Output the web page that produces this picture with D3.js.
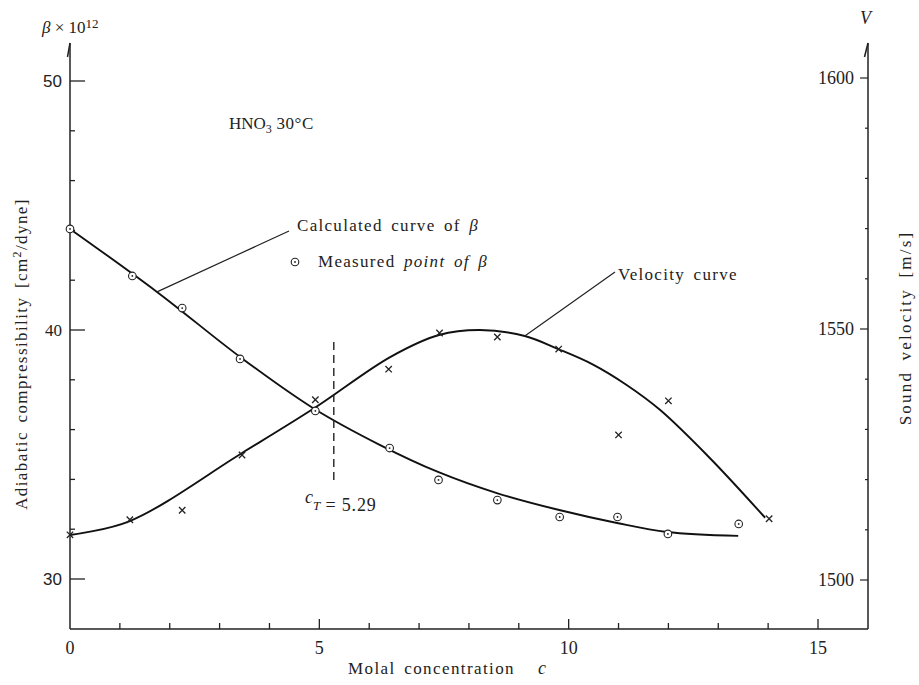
<!DOCTYPE html>
<html>
<head>
<meta charset="utf-8">
<script src="https://cdn.jsdelivr.net/npm/d3@7"></script>
<style>
  body { margin: 0; background: #fff; }
  svg { display: block; }
</style>
</head>
<body>
<svg id="chart" width="919" height="685"></svg>
<script>
// donnees
let betaCurveC = [0, 1.745, 3.41, 4.87, 6.22, 7.38, 8.56, 9.81, 10.97, 11.97, 13.40];
let betaCurveV = [44.06, 41.53, 38.92, 36.87, 35.38, 34.30, 33.45, 32.77, 32.25, 31.89, 31.73];

let betaPtsC = [0, 1.25, 2.25, 3.41, 4.92, 6.41, 7.39, 8.57, 9.82, 10.98, 11.99, 13.41];
let betaPtsV = [44.06, 42.17, 40.88, 38.84, 36.75, 35.26, 33.98, 33.17, 32.49, 32.49, 31.81, 32.21];

let velCurveC = [0, 1.2, 3.45, 4.91, 6.42, 7.40, 8.22, 9.12, 9.79, 10.47, 11.17, 11.83, 12.83, 13.94];
let velCurveV = [1508.96, 1511.75, 1525.3, 1534.3, 1544.4, 1548.8, 1549.8, 1548.6, 1546.0, 1543.0, 1538.8, 1533.9, 1524.3, 1512.4];

let velPtsC = [0, 1.2, 2.25, 3.45, 4.92, 6.39, 7.41, 8.57, 9.8, 11.0, 12.0, 14.02];
let velPtsV = [1509.0, 1512.0, 1513.9, 1524.9, 1535.9, 1542.0, 1549.2, 1548.4, 1546.0, 1528.9, 1535.7, 1512.2];

let xTicks = [0, 5, 10, 15];
let leftTicks = [30, 40, 50];
let rightTicks = [1500, 1550, 1600];
let cT = 5.29;

let serif = "'Liberation Serif', 'Times New Roman', 'DejaVu Serif', serif";
let sans = "'Liberation Sans', Arial, sans-serif";

let svg = d3.select("#chart")
  .attr("font-family", serif);

svg.append("rect").attr("width", 919).attr("height", 685).attr("fill", "#fff");

// echelles
let x = d3.scaleLinear().domain([0, 15]).range([70, 818]);
let yL = d3.scaleLinear().domain([30, 50]).range([579, 81]);
let yR = d3.scaleLinear().domain([1500, 1600]).range([580, 78]);

let xEnd = 868, yBottom = 629, yTop = 43;

// axes
let ax = svg.append("g").attr("stroke", "#222").attr("fill", "none");
ax.append("line").attr("x1", x(0)).attr("x2", xEnd).attr("y1", yBottom).attr("y2", yBottom).attr("stroke-width", 1.5);
ax.append("line").attr("x1", x(0)).attr("x2", x(0)).attr("y1", yBottom).attr("y2", yTop).attr("stroke-width", 1.5);
ax.append("line").attr("x1", xEnd).attr("x2", xEnd).attr("y1", yBottom).attr("y2", yTop).attr("stroke-width", 1.5);
// petites fleches
ax.append("path").attr("d", "M" + (x(0) - 2.5) + "," + (yTop + 14) + "L" + x(0) + "," + yTop).attr("stroke-width", 1.5);
ax.append("path").attr("d", "M" + (xEnd - 3.5) + "," + (yTop + 14) + "L" + xEnd + "," + yTop).attr("stroke-width", 1.5);

// graduations x
ax.selectAll(".xminor").data(d3.range(1, 16)).enter().append("line")
  .attr("x1", d => x(d)).attr("x2", d => x(d))
  .attr("y1", yBottom).attr("y2", d => yBottom - (d % 5 === 0 ? 10 : 6))
  .attr("stroke-width", 1.3);

// graduations gauche
ax.selectAll(".lminor").data(d3.range(30, 51, 2)).enter().append("line")
  .attr("x1", x(0)).attr("x2", d => x(0) + (d % 10 === 0 ? 15 : 5))
  .attr("y1", d => yL(d)).attr("y2", d => yL(d))
  .attr("stroke-width", 1.3);

// graduations droite
ax.selectAll(".rminor").data(d3.range(1500, 1601, 10)).enter().append("line")
  .attr("x1", xEnd).attr("x2", d => xEnd - (d % 50 === 0 ? 8 : 3))
  .attr("y1", d => yR(d)).attr("y2", d => yR(d))
  .attr("stroke-width", 1.2);

// etiquettes
let txt = svg.append("g").attr("fill", "#222").attr("font-family", serif);

txt.selectAll(".xlab").data(xTicks).enter().append("text")
  .attr("x", d => x(d)).attr("y", 654)
  .attr("text-anchor", "middle").attr("font-size", 18)
  .text(d => d);

txt.selectAll(".llab").data(leftTicks).enter().append("text")
  .attr("x", 62).attr("y", d => yL(d) + 6)
  .attr("text-anchor", "end").attr("font-size", 17)
  .attr("font-family", d => d === 40 ? serif : sans)
  .text(d => d);

txt.selectAll(".rlab").data(rightTicks).enter().append("text")
  .attr("x", 854).attr("y", d => yR(d) + 6)
  .attr("text-anchor", "end").attr("font-size", 18)
  .text(d => d);

// titres des axes
txt.append("text").attr("x", 348).attr("y", 674).attr("font-size", 17)
  .attr("letter-spacing", 1.4).attr("word-spacing", 3).text("Molal concentration");
txt.append("text").attr("x", 538).attr("y", 674).attr("font-size", 18)
  .attr("font-style", "italic").text("c");

let tl = txt.append("text")
  .attr("transform", "translate(27,354) rotate(-90)")
  .attr("text-anchor", "middle").attr("font-size", 17).attr("letter-spacing", 1.4).attr("word-spacing", 3);
tl.append("tspan").text("Adiabatic compressibility [cm");
tl.append("tspan").attr("dy", -6).attr("font-size", 12).text("2");
tl.append("tspan").attr("dy", 6).text("/dyne]");

txt.append("text")
  .attr("transform", "translate(911,328) rotate(-90)")
  .attr("text-anchor", "middle").attr("font-size", 17).attr("letter-spacing", 2.2).attr("word-spacing", 4)
  .text("Sound velocity [m/s]");

let t1 = txt.append("text").attr("x", 42).attr("y", 33).attr("font-size", 17);
t1.append("tspan").attr("font-style", "italic").text("β");
t1.append("tspan").text(" × 10");
t1.append("tspan").attr("dy", -5).attr("font-size", 13).text("12");

txt.append("text").attr("x", 860).attr("y", 24).attr("font-size", 18)
  .attr("font-style", "italic").text("V");

// courbes
let lineB = d3.line().x(d => x(d[0])).y(d => yL(d[1])).curve(d3.curveCatmullRom.alpha(0.5));
let lineV = d3.line().x(d => x(d[0])).y(d => yR(d[1])).curve(d3.curveCatmullRom.alpha(0.5));

svg.append("path").datum(d3.zip(betaCurveC, betaCurveV))
  .attr("d", lineB).attr("fill", "none").attr("stroke", "#111").attr("stroke-width", 1.9);
svg.append("path").datum(d3.zip(velCurveC, velCurveV))
  .attr("d", lineV).attr("fill", "none").attr("stroke", "#111").attr("stroke-width", 1.9);

// points mesures beta
let gb = svg.append("g");
d3.zip(betaPtsC, betaPtsV).forEach(function(p) {
  gb.append("circle").attr("cx", x(p[0])).attr("cy", yL(p[1])).attr("r", 3.8)
    .attr("fill", "#fff").attr("stroke", "#222").attr("stroke-width", 1.1);
  gb.append("circle").attr("cx", x(p[0])).attr("cy", yL(p[1])).attr("r", 0.9).attr("fill", "#222");
});

// points mesures vitesse
let gv = svg.append("g").attr("stroke", "#222").attr("stroke-width", 1.3);
d3.zip(velPtsC, velPtsV).forEach(function(p) {
  let px = x(p[0]), py = yR(p[1]), s = 3.2;
  gv.append("path").attr("d", "M" + (px - s) + "," + (py - s) + "L" + (px + s) + "," + (py + s) +
    "M" + (px - s) + "," + (py + s) + "L" + (px + s) + "," + (py - s));
});

// ligne cT
svg.append("line").attr("x1", x(cT)).attr("x2", x(cT)).attr("y1", 342).attr("y2", 484)
  .attr("stroke", "#222").attr("stroke-width", 1.4).attr("stroke-dasharray", "8,5");
let tc = txt.append("text").attr("x", 305).attr("y", 503).attr("font-size", 18);
tc.append("tspan").attr("font-style", "italic").text("c");
tc.append("tspan").attr("dy", 7).attr("font-size", 13).attr("font-style", "italic").text("T");
tc.append("tspan").attr("dy", 1).attr("letter-spacing", 0.8).text(" = 5.29");

// annotations
let th = txt.append("text").attr("x", 229).attr("y", 129).attr("font-size", 17);
th.append("tspan").text("HNO");
th.append("tspan").attr("dy", 4).attr("font-size", 12).text("3");
th.append("tspan").attr("dy", -4).attr("letter-spacing", 0.5).text("  30°C");

svg.append("line").attr("x1", x(1.745)).attr("y1", yL(41.53)).attr("x2", 289).attr("y2", 231)
  .attr("stroke", "#222").attr("stroke-width", 1.2);
let t2 = txt.append("text").attr("x", 297).attr("y", 231).attr("font-size", 17)
  .attr("letter-spacing", 1.3).attr("word-spacing", 3);
t2.append("tspan").text("Calculated curve of ");
t2.append("tspan").attr("font-style", "italic").text("β");

svg.append("circle").attr("cx", 295).attr("cy", 262).attr("r", 3.8)
  .attr("fill", "#fff").attr("stroke", "#222").attr("stroke-width", 1.1);
svg.append("circle").attr("cx", 295).attr("cy", 262).attr("r", 0.9).attr("fill", "#222");
let t3 = txt.append("text").attr("x", 318).attr("y", 267).attr("font-size", 17)
  .attr("letter-spacing", 1.3).attr("word-spacing", 3);
t3.append("tspan").text("Measured ");
t3.append("tspan").attr("font-style", "italic").text("point of β");

svg.append("line").attr("x1", x(9.12)).attr("y1", yR(1548.6)).attr("x2", 615).attr("y2", 272)
  .attr("stroke", "#222").attr("stroke-width", 1.2);
txt.append("text").attr("x", 618).attr("y", 280).attr("font-size", 17)
  .attr("letter-spacing", 1.3).attr("word-spacing", 3)
  .text("Velocity curve");
</script>
</body>
</html>
